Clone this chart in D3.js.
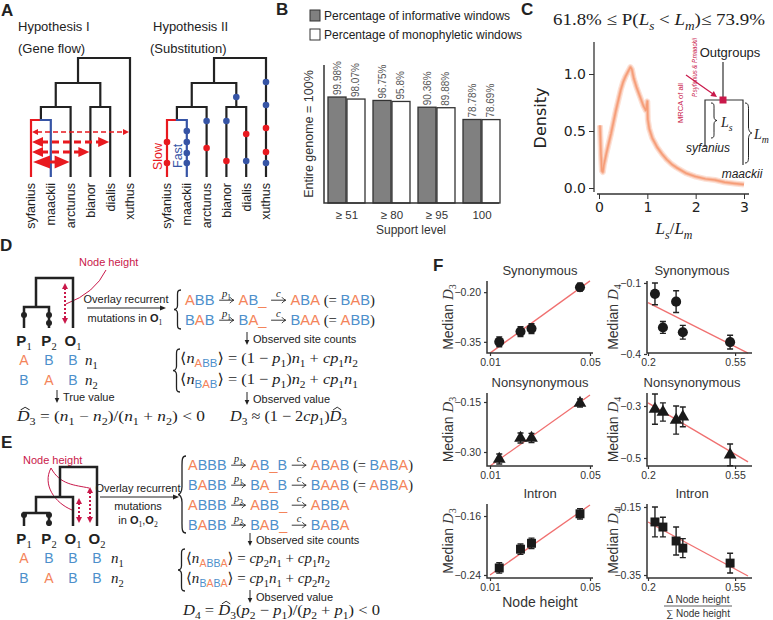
<!DOCTYPE html>
<html><head><meta charset="utf-8">
<script src="https://cdn.jsdelivr.net/npm/d3@7"></script>
<style>body{margin:0;background:#fff} svg{display:block}</style>
</head><body><svg id="c" width="773" height="620"></svg>
<script>
// ================= DATA =================
const taxa = ["syfanius","maackii","arcturus","bianor","dialis","xuthus"];
const supportLevels = ["≥ 51","≥ 80","≥ 95","100"];
const informativePct = [99.98, 96.75, 90.36, 78.78];
const monophyleticPct = [98.07, 95.8, 89.88, 78.69];
const densityX = [0.02,0.04,0.06,0.08,0.10,0.15,0.20,0.25,0.30,0.35,0.40,0.45,0.50,0.55,0.60,0.65,0.68,0.72,0.78,0.85,0.92,0.97,1.00,1.01,1.04,1.10,1.20,1.30,1.40,1.50,1.60,1.80,2.00,2.20,2.40,2.60,2.80,3.00];
const densityY = [0.55,0.30,0.15,0.14,0.20,0.30,0.39,0.48,0.58,0.68,0.77,0.86,0.93,0.98,1.02,1.06,1.04,0.96,0.88,0.80,0.72,0.68,0.76,0.60,0.52,0.44,0.36,0.30,0.25,0.21,0.18,0.13,0.10,0.08,0.07,0.05,0.04,0.03];
const densityTicksX = [0,1,2,3];
const densityTicksY = [0,0.5,1.0];
const nodeHeight = [0.0137, 0.0222, 0.0266, 0.046];
const nodeHeightRatio = [0.228, 0.26, 0.313, 0.34, 0.53];
const synD3 = [-0.35, -0.319, -0.31, -0.185];
const synD3Err = [0.015, 0.015, 0.015, 0.012];
const nonsynD3 = [-0.321, -0.258, -0.258, -0.153];
const nonsynD3Err = [0.015, 0.015, 0.014, 0.012];
const intronD3 = [-0.2305, -0.205, -0.197, -0.157];
const intronD3Err = [0.007, 0.007, 0.007, 0.007];
const synD4 = [-0.146, -0.288, -0.179, -0.308, -0.35];
const synD4Err = [0.046, 0.025, 0.046, 0.029, 0.029];
const nonsynD4 = [-0.312, -0.323, -0.354, -0.342, -0.488];
const nonsynD4Err = [0.058, 0.035, 0.054, 0.038, 0.042];
const intronD4 = [-0.194, -0.209, -0.25, -0.271, -0.315];
const intronD4Err = [0.044, 0.029, 0.041, 0.028, 0.029];
const synD3Fit = [[0.01,-0.384],[0.05,-0.166]];
const nonsynD3Fit = [[0.01,-0.342],[0.05,-0.129]];
const intronD3Fit = [[0.01,-0.24],[0.05,-0.145]];
const synD4Fit = [[0.2,-0.183],[0.602,-0.396]];
const nonsynD4Fit = [[0.2,-0.288],[0.602,-0.515]];
const intronD4Fit = [[0.2,-0.194],[0.602,-0.353]];
const d3TicksX = [0.01, 0.05];
const d4TicksX = [0.2, 0.55];
const synD3Ticks = [-0.35, -0.20], nonsynD3Ticks = [-0.30, -0.15], intronD3Ticks = [-0.24, -0.16];
const synD4Ticks = [-0.4, -0.1], nonsynD4Ticks = [-0.5, -0.3], intronD4Ticks = [-0.35, -0.15];

// ================= SETUP =================
const svg = d3.select("#c");
const SANS = "'Liberation Sans', Arial, sans-serif";
const SERIF = "'Liberation Serif', 'Times New Roman', serif";
const DV = "'DejaVu Sans', sans-serif";
const RED = "#e8191f", BLUE = "#3654a5", CRIM = "#c9184a", ORA = "#f4845a", BLU2 = "#4d8fcb", INK = "#222";

function txt(x, y, s, o={}) {
  const t = svg.append("text").attr("x", x).attr("y", y).text(s)
    .attr("font-family", o.ff || SANS).attr("font-size", o.size || 12).attr("fill", o.c || INK);
  if (o.anchor) t.attr("text-anchor", o.anchor);
  if (o.bold) t.attr("font-weight", "bold");
  if (o.it) t.attr("font-style", "italic");
  if (o.rot != null) t.attr("transform", `rotate(${o.rot},${x},${y})`);
  if (o.dy) t.attr("dy", o.dy);
  if (o.len) t.attr("textLength", o.len).attr("lengthAdjust", "spacingAndGlyphs");
  return t;
}
function rich(parent, x, y, pieces, o={}) {
  const size = o.size || 14;
  const g = parent.append("g");
  let cx = 0;
  for (const p of pieces) {
    if (p.arrow) {
      const w = p.arrow, ay = -size*0.32;
      g.append("line").attr("x1",cx+1).attr("x2",cx+w-1.5).attr("y1",ay).attr("y2",ay).attr("stroke",INK).attr("stroke-width",0.9);
      g.append("path").attr("d",`M${cx+w-5},${ay-3}Q${cx+w-3},${ay-0.5} ${cx+w-1},${ay}Q${cx+w-3},${ay+0.5} ${cx+w-5},${ay+3}`).attr("fill","none").attr("stroke",INK).attr("stroke-width",0.9);
      if (p.over) { const og = rich(g, 0, 0, p.over, {size: size*0.72}); og.attr("transform",`translate(${cx+(w-og.w)/2},${ay-3})`); }
      cx += w; continue;
    }
    const sz = p.size || (p.sub ? size*0.7 : size);
    const t = g.append("text").attr("x",cx).attr("y", p.sub ? size*0.28 : 0)
      .attr("font-family", p.ff || ((p.it||p.m) ? SERIF : SANS))
      .attr("font-style", p.it ? "italic" : null).attr("font-weight", p.bold?"bold":null)
      .attr("font-size", sz).attr("fill", p.c || INK).text(p.t.replace(/ /g,"\u00A0"));
    const w = t.node().getComputedTextLength();
    if (p.hat) g.append("path").attr("d",`M${cx+w*0.3},${-size*0.74}L${cx+w*0.65},${-size*0.92}L${cx+w*1.0},${-size*0.74}`).attr("fill","none").attr("stroke",INK).attr("stroke-width",0.9);
    cx += w + (p.sp||0);
  }
  const sx = o.scale || (o.width ? o.width/cx : 1);
  let tx = x;
  if (o.anchor === "middle") tx = x - cx*sx/2;
  g.attr("transform",`translate(${tx},${y}) scale(${sx},1)`);
  g.w = cx; g.sx = sx;
  return g;
}
const seq = (s, extra={}) => s.split("").map(ch => Object.assign({t: ch, c: ch==="B" ? BLU2 : ORA}, extra));
const P = i => [{t:"p",it:true},{t:String(i),sub:true,m:true}];
const N = i => [{t:"n",it:true},{t:String(i),sub:true,m:true}];
const CP = i => [{t:"cp",it:true},{t:String(i),sub:true,m:true}];
const M = s => ({t:s, m:true});
function brace(x, y1, y2, w, s, color=INK, sw=1.3) {
  const h = y2-y1, m=(y1+y2)/2, X = a => x + s*a;
  const d = `M${X(w)},${y1} C${X(w*0.45)},${y1} ${X(w*0.5)},${y1+h*0.06} ${X(w*0.5)},${y1+h*0.15} L${X(w*0.5)},${m-h*0.1} C${X(w*0.5)},${m-h*0.03} ${X(w*0.2)},${m} ${X(0)},${m} C${X(w*0.2)},${m} ${X(w*0.5)},${m+h*0.03} ${X(w*0.5)},${m+h*0.1} L${X(w*0.5)},${y2-h*0.15} C${X(w*0.5)},${y2-h*0.06} ${X(w*0.45)},${y2} ${X(w)},${y2}`;
  svg.append("path").attr("d",d).attr("fill","none").attr("stroke",color).attr("stroke-width",sw);
}
function tri(xt, yt, dx, dy, len, half, col) {
  const bx = xt - dx*len, by = yt - dy*len, px = -dy*half, py = dx*half;
  svg.append("path").attr("d",`M${xt},${yt}L${bx+px},${by+py}L${bx-px},${by-py}Z`).attr("fill",col);
}
function downArrow(x, y, label) {
  svg.append("line").attr("x1",x).attr("x2",x).attr("y1",y-8).attr("y2",y+2).attr("stroke",INK).attr("stroke-width",1);
  tri(x, y+5, 0, 1, 5, 2.3, INK);
  txt(x+6, y+3, label, {size:11});
}
function dotArrow(x, y1, y2, col) {
  svg.append("line").attr("x1",x).attr("x2",x).attr("y1",y1+5).attr("y2",y2-5).attr("stroke",col).attr("stroke-width",2).attr("stroke-dasharray","2,2");
  tri(x, y1, 0, -1, 6, 3, col); tri(x, y2, 0, 1, 6, 3, col);
}
function panelLabel(t, x, y) { txt(x, y, t, {size:17, bold:true, ff:SANS}); }

// ================= PANEL A =================
panelLabel("A", 1, 16);
txt(18, 31, "Hypothesis I", {size:13});
txt(18, 53, "(Gene flow)", {size:13});
txt(153, 31, "Hypothesis II", {size:13});
txt(150, 53, "(Substitution)", {size:13});
const treeData = {children:[{children:[{children:[{children:[{name:"syfanius"},{name:"maackii"}]},{name:"arcturus"}]},{name:"bd",children:[{name:"bianor"},{name:"dialis"}]}]},{name:"xuthus"}]};
const depthY = [58,83,107,120], tipY = 176;
function drawTree(x0) {
  const root = d3.hierarchy(treeData);
  const tipX = d3.scalePoint().domain(taxa).range([x0, x0+99]);
  root.eachAfter(n => { n.px = n.children ? d3.mean(n.children, c=>c.px) : tipX(n.data.name); n.py = n.children ? depthY[n.depth] : tipY; });
  const colOf = n => n.data.name==="syfanius" ? RED : n.data.name==="maackii" ? BLUE : INK;
  svg.append("g").selectAll("path").data(root.descendants().filter(n=>n.parent)).join("path")
    .attr("d", n => `M${n.parent.px},${n.parent.py}H${n.px}V${n.py}`)
    .attr("fill","none").attr("stroke",colOf).attr("stroke-width",2.2).attr("stroke-linecap","square");
  root.leaves().forEach(l => txt(l.px, 183, l.data.name, {size:12.5, anchor:"end", rot:-90, dy:"0.35em"}));
  const byName = {}; root.descendants().forEach(n => { if (n.data.name) byName[n.data.name] = n; });
  return byName;
}
const t1 = drawTree(31);
const t2 = drawTree(167);
const xs = t1.syfanius.px + 1;
svg.append("line").attr("x1",xs+5).attr("x2",t1.xuthus.px-5).attr("y1",132).attr("y2",132).attr("stroke",RED).attr("stroke-width",1.3).attr("stroke-dasharray","5,3");
tri(xs,132,-1,0,6,3,RED); tri(t1.xuthus.px-1,132,1,0,6,3,RED);
[[t1.dialis.px,142],[t1.bianor.px,152]].forEach(([xe,y])=>{
  svg.append("line").attr("x1",xs+9).attr("x2",xe-9).attr("y1",y).attr("y2",y).attr("stroke",RED).attr("stroke-width",3).attr("stroke-dasharray","7,4");
  tri(xs,y,-1,0,11,5,RED); tri(xe-1,y,1,0,11,5,RED);
});
svg.append("line").attr("x1",xs+15).attr("x2",t1.arcturus.px-12).attr("y1",162).attr("y2",162).attr("stroke",RED).attr("stroke-width",3);
tri(xs+1,162,-1,0,17,6.5,RED); tri(t1.arcturus.px-1,162,1,0,15,6.5,RED);
const mutations = [["syfanius",142,RED],["syfanius",163,RED],["maackii",131,BLUE],["maackii",142,BLUE],["maackii",153,BLUE],["maackii",163,BLUE],
  ["arcturus",121,BLUE],["arcturus",148,RED],["bianor",121,BLUE],["bianor",161,RED],["dialis",134,RED],["dialis",161,BLUE],["bd",97,BLUE],
  ["xuthus",82,BLUE],["xuthus",105,BLUE],["xuthus",128,RED],["xuthus",152,RED],["xuthus",163,BLUE]];
svg.append("g").selectAll("circle").data(mutations).join("circle").attr("cx",d=>t2[d[0]].px).attr("cy",d=>d[1]).attr("r",3.3).attr("fill",d=>d[2]);
txt(158, 170, "Slow", {size:12.5, c:RED, rot:-90, dy:"0.35em"});
txt(178, 168, "Fast", {size:12.5, c:BLUE, rot:-90, dy:"0.35em"});

// ================= PANEL B =================
panelLabel("B", 276, 15);
svg.append("rect").attr("x",310).attr("y",10).attr("width",10).attr("height",11).attr("fill","#808080").attr("stroke","#333");
txt(324, 20, "Percentage of informative windows", {size:12});
svg.append("rect").attr("x",310).attr("y",29).attr("width",10).attr("height",11).attr("fill","#fff").attr("stroke","#333");
txt(324, 39, "Percentage of monophyletic windows", {size:12});
const xB = d3.scaleBand().domain(supportLevels).range([324.5, 504.5]);
const sB = d3.scaleBand().domain(["inf","mono"]).range([-19,18]).paddingInner(0.05);
const yB = d3.scaleLinear().domain([0,100]).range([203,97]);
const barsB = supportLevels.flatMap((s,i)=>[{s,k:"inf",v:informativePct[i]},{s,k:"mono",v:monophyleticPct[i]}]);
const bx = d => xB(d.s)+xB.bandwidth()/2+sB(d.k);
svg.append("g").selectAll("rect").data(barsB).join("rect").attr("x",bx).attr("width",sB.bandwidth())
  .attr("y",d=>yB(d.v)).attr("height",d=>yB(0)-yB(d.v)).attr("fill",d=>d.k==="inf"?"#808080":"#fff").attr("stroke","#333").attr("stroke-width",1.3);
svg.append("g").selectAll("text").data(barsB).join("text")
  .attr("transform",d=>`translate(${bx(d)+sB.bandwidth()/2},${yB(d.v)-2}) rotate(-90)`).attr("dy","0.35em")
  .attr("font-family",SANS).attr("font-size",10).attr("fill","#555").text(d=>d.v+"%");
svg.append("path").attr("d","M324,65V203H499").attr("fill","none").attr("stroke","#333").attr("stroke-width",1.5);
supportLevels.forEach(s => txt(xB(s)+xB.bandwidth()/2, 219, s, {size:11.5, anchor:"middle", c:"#333"}));
txt(411, 234, "Support level", {size:12, anchor:"middle", c:"#333"});
txt(313, 134, "Entire genome = 100%", {size:12.5, anchor:"middle", rot:-90, c:"#333"});

// ================= PANEL C =================
panelLabel("C", 521, 15);
rich(svg, 553, 25, [M("61.8% ≤ P("),{t:"L",it:true},{t:"s",it:true,sub:true},M(" < "),{t:"L",it:true},{t:"m",it:true,sub:true},M(")≤ 73.9%")], {size:17, width:212});
const xC = d3.scaleLinear().domain([0,3]).range([599,744]);
const yC = d3.scaleLinear().domain([0,1]).range([188,74]);
const dens = densityX.map((x,i)=>[x,densityY[i]]);
const lineC = d3.line().x(d=>xC(d[0])).y(d=>yC(d[1]));
[[6,0.25],[3.5,0.4],[1.5,0.6]].forEach(([w,op]) =>
  svg.append("path").attr("d",lineC(dens)).attr("fill","none").attr("stroke","#f4875a").attr("stroke-width",w).attr("stroke-opacity",op).attr("stroke-linejoin","round"));
svg.append("line").attr("x1",594).attr("x2",594).attr("y1",yC(1.28)).attr("y2",192).attr("stroke","#333").attr("stroke-width",1.3);
svg.append("line").attr("x1",597).attr("x2",749).attr("y1",194).attr("y2",194).attr("stroke","#333").attr("stroke-width",1.3);
const axCx = svg.append("g").attr("transform","translate(0,194)").call(d3.axisBottom(xC).tickValues(densityTicksX).tickFormat(d3.format("d")).tickSize(5).tickPadding(3));
const axCy = svg.append("g").attr("transform","translate(594,0)").call(d3.axisLeft(yC).tickValues(densityTicksY).tickFormat(d3.format(".1f")).tickSize(5).tickPadding(3));
[axCx, axCy].forEach(a => { a.select(".domain").remove(); a.selectAll("line").attr("stroke","#333"); a.selectAll("text").attr("font-family",DV).attr("font-size",14).attr("fill",INK); });
txt(546, 118, "Density", {size:16, ff:DV, anchor:"middle", rot:-90});
rich(svg, 674, 234, [{t:"L",it:true},{t:"s",it:true,sub:true},M("/"),{t:"L",it:true},{t:"m",it:true,sub:true}], {size:17, anchor:"middle"});
txt(730, 57, "Outgroups", {size:13, anchor:"middle"});
svg.append("path").attr("d","M723,62V100M705,147V100H743V165").attr("fill","none").attr("stroke","#333").attr("stroke-width",1.2);
svg.append("rect").attr("x",719.5).attr("y",96.5).attr("width",7).attr("height",7).attr("fill",CRIM);
txt(708, 152, "syfanius", {size:12, it:true, anchor:"middle"});
txt(742, 178, "maackii", {size:12, it:true, anchor:"middle"});
brace(717, 103, 138, 6, -1, INK, 1);
rich(svg, 721, 127, [{t:"L",it:true},{t:"s",it:true,sub:true}], {size:14});
brace(752, 103, 163, 7, -1, INK, 1);
rich(svg, 754, 139, [{t:"L",it:true},{t:"m",it:true,sub:true}], {size:14});
txt(680, 123, "MRCA of all", {size:8, c:CRIM, rot:-90, dy:"0.35em", len:40});
txt(694, 97, "P.syfanius & P.maackii", {size:8, c:CRIM, rot:-90, dy:"0.35em", it:true, len:59});
svg.append("line").attr("x1",686).attr("y1",75).attr("x2",713).attr("y2",94).attr("stroke",CRIM).attr("stroke-width",1.2);
tri(717, 97, 0.82, 0.58, 6, 3, CRIM);

// ================= PANEL D =================
panelLabel("D", 0, 251);
txt(79, 266, "Node height", {size:11, c:CRIM});
svg.append("path").attr("d","M106,270Q95,293 66,304").attr("fill","none").attr("stroke",CRIM).attr("stroke-width",1);
svg.append("path").attr("d","M24,328V307H49V328M36,307V278H73V328").attr("fill","none").attr("stroke",INK).attr("stroke-width",2.5);
[[24,315],[49,315],[49,323]].forEach(([x,y])=>svg.append("circle").attr("cx",x).attr("cy",y).attr("r",3).attr("fill",INK));
dotArrow(65, 283, 324, CRIM);
[[24,"P","1"],[49,"P","2"],[73,"O","1"]].forEach(([x,l,s])=>rich(svg,x,346,[{t:l,bold:true},{t:s,sub:true,m:true}],{size:15,anchor:"middle"}));
["ABB","BAB"].forEach((row,r)=>{
  const y = 365 + r*20;
  row.split("").forEach((ch,i)=> txt([24,49,73][i], y, ch, {size:14, c: ch==="A"?ORA:BLU2, anchor:"middle"}));
  rich(svg, 85, y, N(r+1), {size:15});
});
downArrow(57, 398, "True value");
rich(svg, 17, 421, [{t:"D",it:true,hat:true},{t:"3",sub:true,m:true},M(" = ("),...N(1),M(" − "),...N(2),M(")/("),...N(1),M(" + "),...N(2),M(") < 0")], {size:15, width:188});
rich(svg, 230, 421, [{t:"D",it:true},{t:"3",sub:true,m:true},M(" ≈ (1 − 2"),...CP(1),M(")"),{t:"D",it:true,hat:true},{t:"3",sub:true,m:true}], {size:15, width:117});
txt(126, 303, "Overlay recurrent", {size:11, anchor:"middle"});
svg.append("line").attr("x1",87).attr("x2",161).attr("y1",308).attr("y2",308).attr("stroke",INK).attr("stroke-width",1);
tri(166,308,1,0,6,2.5,INK);
rich(svg, 125, 322, [{t:"mutations in "},{t:"O",bold:true},{t:"1",sub:true,m:true}], {size:11, anchor:"middle"});
brace(174, 290, 329, 7, 1);
const arr = (k,i) => ({arrow:17, over: k==="c" ? [{t:"c",it:true}] : P(i)});
const Dl1 = [...seq("ABB"),M(" "),arr("p",1),M(" "),...seq("AB_"),M(" "),arr("c"),M(" "),...seq("ABA"),M(" (= "),...seq("BAB"),M(")")];
const Dl2 = [...seq("BAB"),M(" "),arr("p",1),M(" "),...seq("BA_"),M(" "),arr("c"),M(" "),...seq("BAA"),M(" (= "),...seq("ABB"),M(")")];
const gD1 = rich(svg, 185, 305, Dl1, {size:15, width:190});
rich(svg, 185, 325, Dl2, {size:15, scale:gD1.sx});
downArrow(247, 340, "Observed site counts");
brace(173, 349, 392, 7, 1);
const nSub = s => [{t:"⟨",ff:DV},{t:"n",it:true},...seq(s,{sub:true}),{t:"⟩",ff:DV}];
const gE1 = rich(svg, 180, 363, [...nSub("ABB"),M(" = (1 − "),...P(1),M(")"),...N(1),M(" + "),...CP(1),...N(2)], {size:15, width:178});
rich(svg, 180, 384, [...nSub("BAB"),M(" = (1 − "),...P(1),M(")"),...N(2),M(" + "),...CP(1),...N(1)], {size:15, scale:gE1.sx});
downArrow(247, 400, "Observed value");

// ================= PANEL E =================
panelLabel("E", 1, 448);
txt(23, 464, "Node height", {size:11, c:CRIM});
svg.append("path").attr("d","M51,468C42,485 55,503 72,510").attr("fill","none").attr("stroke",CRIM).attr("stroke-width",1);
svg.append("path").attr("d","M51,468C60,485 75,485 89,488").attr("fill","none").attr("stroke",CRIM).attr("stroke-width",1);
svg.append("path").attr("d","M24,526V513H49V526M36,513V497H73V526M60,497V467H97V526").attr("fill","none").attr("stroke",INK).attr("stroke-width",2.5);
[[24,515],[49,515],[49,523]].forEach(([x,y])=>svg.append("circle").attr("cx",x).attr("cy",y).attr("r",3).attr("fill",INK));
dotArrow(79, 498, 523, CRIM);
dotArrow(90, 487, 523, CRIM);
[[24,"P","1"],[49,"P","2"],[73,"O","1"],[97,"O","2"]].forEach(([x,l,s])=>rich(svg,x,544,[{t:l,bold:true},{t:s,sub:true,m:true}],{size:15,anchor:"middle"}));
["ABBB","BABB"].forEach((row,r)=>{
  const y = 563 + r*20;
  row.split("").forEach((ch,i)=> txt([24,49,73,97][i], y, ch, {size:14, c: ch==="A"?ORA:BLU2, anchor:"middle"}));
  rich(svg, 111, y, N(r+1), {size:15});
});
txt(138, 492, "Overlay recurrent", {size:11, anchor:"middle"});
svg.append("line").attr("x1",100).attr("x2",174).attr("y1",497).attr("y2",497).attr("stroke",INK).attr("stroke-width",1);
tri(179,497,1,0,6,2.5,INK);
txt(138, 510, "mutations", {size:11, anchor:"middle"});
rich(svg, 138, 524, [{t:"in "},{t:"O",bold:true},{t:"1",sub:true,m:true},{t:","},{t:"O",bold:true},{t:"2",sub:true,m:true}], {size:11, anchor:"middle"});
brace(178, 456, 533, 8, 1);
const El1 = [...seq("ABBB"),M(" "),arr("p",1),M(" "),...seq("AB_B"),M(" "),arr("c"),M(" "),...seq("ABAB"),M(" (= "),...seq("BABA"),M(")")];
const El2 = [...seq("BABB"),M(" "),arr("p",1),M(" "),...seq("BA_B"),M(" "),arr("c"),M(" "),...seq("BAAB"),M(" (= "),...seq("ABBA"),M(")")];
const El3 = [...seq("ABBB"),M(" "),arr("p",2),M(" "),...seq("ABB_"),M(" "),arr("c"),M(" "),...seq("ABBA")];
const El4 = [...seq("BABB"),M(" "),arr("p",2),M(" "),...seq("BAB_"),M(" "),arr("c"),M(" "),...seq("BABA")];
const gEl = rich(svg, 188, 470, El1, {size:15, width:225});
rich(svg, 188, 490, El2, {size:15, scale:gEl.sx});
rich(svg, 188, 510, El3, {size:15, scale:gEl.sx});
rich(svg, 188, 530, El4, {size:15, scale:gEl.sx});
downArrow(250, 541, "Observed site counts");
brace(178, 549, 591, 7, 1);
const gEe = rich(svg, 186, 563, [...nSub("ABBA"),M(" = "),...CP(2),...N(1),M(" + "),...CP(1),...N(2)], {size:15, width:144});
rich(svg, 186, 583, [...nSub("BABA"),M(" = "),...CP(1),...N(1),M(" + "),...CP(2),...N(2)], {size:15, scale:gEe.sx});
downArrow(250, 598, "Observed value");
rich(svg, 183, 615, [{t:"D",it:true},{t:"4",sub:true,m:true},M(" = "),{t:"D",it:true,hat:true},{t:"3",sub:true,m:true},M("("),...P(2),M(" − "),...P(1),M(")/("),...P(2),M(" + "),...P(1),M(") < 0")], {size:15, width:197});

// ================= PANEL F =================
panelLabel("F", 433, 271);
const rowsF = [{top:281, bot:353, title:"Synonymous", ty:275}, {top:393, bot:466, title:"Nonsynonymous", ty:387}, {top:504, bot:578, title:"Intron", ty:498}];
const colsF = [{x0:487, x1:593, dom:[0.0088,0.0512], xv:nodeHeight, ticks:d3TicksX, fmt:d3.format(".2f"), sub:"3", lab:448},
               {x0:647, x1:752, dom:[0.196,0.618], xv:nodeHeightRatio, ticks:d4TicksX, fmt:d=>String(d), sub:"4", lab:613}];
const panelsF = [
  {r:0,c:0,y:synD3,e:synD3Err,fit:synD3Fit,yd:[-0.3837,-0.1663],yt:synD3Ticks,yf:d3.format(".2f"),mk:"circle"},
  {r:0,c:1,y:synD4,e:synD4Err,fit:synD4Fit,yd:[-0.3958,-0.0917],yt:synD4Ticks,yf:d3.format(".1f"),mk:"circle"},
  {r:1,c:0,y:nonsynD3,e:nonsynD3Err,fit:nonsynD3Fit,yd:[-0.342,-0.123],yt:nonsynD3Ticks,yf:d3.format(".2f"),mk:"triangle"},
  {r:1,c:1,y:nonsynD4,e:nonsynD4Err,fit:nonsynD4Fit,yd:[-0.5308,-0.25],yt:nonsynD4Ticks,yf:d3.format(".1f"),mk:"triangle"},
  {r:2,c:0,y:intronD3,e:intronD3Err,fit:intronD3Fit,yd:[-0.2441,-0.1437],yt:intronD3Ticks,yf:d3.format(".2f"),mk:"square"},
  {r:2,c:1,y:intronD4,e:intronD4Err,fit:intronD4Fit,yd:[-0.3588,-0.1412],yt:intronD4Ticks,yf:d3.format(".2f"),mk:"square"}];
const symF = {circle: d3.symbol(d3.symbolCircle, 80), triangle: d3.symbol(d3.symbolTriangle, 70), square: d3.symbol(d3.symbolSquare, 80)};
panelsF.forEach(p => {
  const R = rowsF[p.r], C = colsF[p.c];
  const x = d3.scaleLinear().domain(C.dom).range([C.x0, C.x1]);
  const y = d3.scaleLinear().domain(p.yd).range([R.bot, R.top]);
  const g = svg.append("g");
  txt(p.c===0 ? 540 : 692, R.ty, R.title, {size:13, anchor:"middle", c:"#333"});
  g.append("line").attr("x1",x(p.fit[0][0])).attr("y1",y(p.fit[0][1])).attr("x2",x(p.fit[1][0])).attr("y2",y(p.fit[1][1])).attr("stroke","#f07070").attr("stroke-width",1.3);
  const ax = g.append("g").attr("transform",`translate(0,${R.bot})`).call(d3.axisBottom(x).tickValues(C.ticks).tickFormat(C.fmt).tickSize(3).tickPadding(3));
  const ay = g.append("g").attr("transform",`translate(${C.x0},0)`).call(d3.axisLeft(y).tickValues(p.yt).tickFormat(p.yf).tickSize(3).tickPadding(3));
  [ax, ay].forEach(a => { a.select(".domain").remove(); a.selectAll("line").attr("stroke","#333").attr("stroke-width",1.2); a.selectAll("text").attr("font-family",SANS).attr("font-size",10.5).attr("fill","#333"); });
  g.append("path").attr("d",`M${C.x0},${R.top}V${R.bot}H${C.x1}`).attr("fill","none").attr("stroke","#333").attr("stroke-width",1.5);
  const pts = C.xv.map((xv,i)=>({x:xv, y:p.y[i], e:p.e[i]}));
  g.selectAll("path.eb").data(pts).join("path").attr("class","eb")
    .attr("d",d=>`M${x(d.x)},${y(d.y-d.e)}V${y(d.y+d.e)}M${x(d.x)-3},${y(d.y-d.e)}H${x(d.x)+3}M${x(d.x)-3},${y(d.y+d.e)}H${x(d.x)+3}`)
    .attr("fill","none").attr("stroke",INK).attr("stroke-width",1.4);
  g.selectAll("path.mk").data(pts).join("path").attr("class","mk")
    .attr("transform",d=>`translate(${x(d.x)},${y(d.y)})`).attr("d",symF[p.mk]()).attr("fill","#1a1a1a");
  const ly = (R.top+R.bot)/2;
  const t = svg.append("text").attr("transform",`translate(${C.lab},${ly}) rotate(-90)`).attr("text-anchor","middle").attr("dy","0.35em")
    .attr("font-family",SANS).attr("font-size",14).attr("fill","#333");
  t.append("tspan").text("Median\u00A0");
  t.append("tspan").attr("font-family",SERIF).attr("font-style","italic").attr("font-size",15).text("D");
  t.append("tspan").attr("font-family",SERIF).attr("font-size",10).attr("dy",3).text(C.sub);
});
txt(540, 607, "Node height", {size:14, anchor:"middle", c:"#333"});
txt(698, 603, "Δ Node height", {size:10, anchor:"middle", c:"#333"});
svg.append("line").attr("x1",664).attr("x2",732).attr("y1",606).attr("y2",606).attr("stroke","#333").attr("stroke-width",0.8);
txt(698, 617, "∑ Node height", {size:10, anchor:"middle", c:"#333"});
</script></body></html>
